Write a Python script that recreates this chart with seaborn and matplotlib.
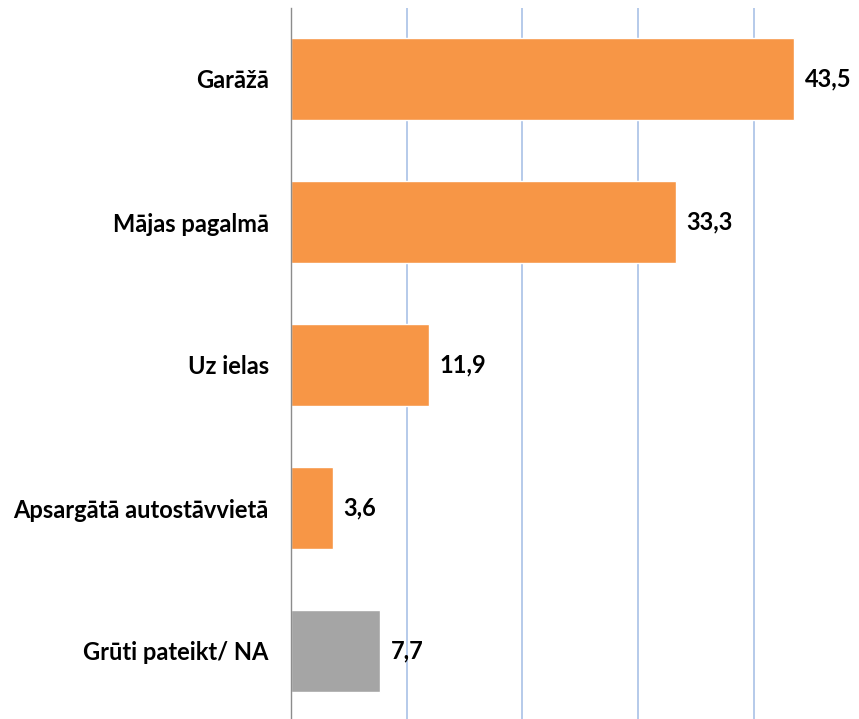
import matplotlib
matplotlib.use("Agg")
import matplotlib.pyplot as plt
import seaborn as sns
import pandas as pd

categories = ["Garāžā", "Mājas pagalmā", "Uz ielas", "Apsargātā autostāvvietā", "Grūti pateikt/ NA"]
values = [43.5, 33.3, 11.9, 3.6, 7.7]
colors = ["#F79646", "#F79646", "#F79646", "#F79646", "#A5A5A5"]

sns.set_theme(style="white")
plt.rcParams['font.family'] = ['Lato', 'DejaVu Sans']

df = pd.DataFrame({"cat": categories, "val": values})

fig = plt.figure(figsize=(8.59, 7.19), dpi=100)
ax = fig.add_axes([291/859, -3.5/719, 1 - 291/859, (719 - 7.5 + 3.5)/719])
sns.barplot(data=df, x="val", y="cat", hue="cat", palette=colors, legend=False,
            width=0.57, ax=ax, orient="h", saturation=1)

ax.set_xlim(0, 49.1)
ax.set_ylim(4.5, -0.5)
ax.set_xticks([10, 20, 30, 40])
ax.xaxis.grid(True, color="#A9C1E6", linewidth=1.2)
ax.set_axisbelow(True)
ax.set_xticklabels([])
ax.tick_params(axis="x", length=0)
ax.tick_params(axis="y", length=0, pad=16)
ax.set_xlabel("")
ax.set_ylabel("")
for s in ["top", "right", "bottom"]:
    ax.spines[s].set_visible(False)
ax.spines["left"].set_color("#8C8C8C")
ax.spines["left"].set_linewidth(1)
for lab in ax.get_yticklabels():
    lab.set_fontsize(17)
    lab.set_fontweight("bold")
    lab.set_color("#000000")

for i, v in enumerate(values):
    ax.text(v + 0.9, i, f"{v:.1f}".replace(".", ","), va="center", ha="left",
            fontsize=17, fontweight="bold", color="#000000")

fig.savefig("out.png", dpi=100)
